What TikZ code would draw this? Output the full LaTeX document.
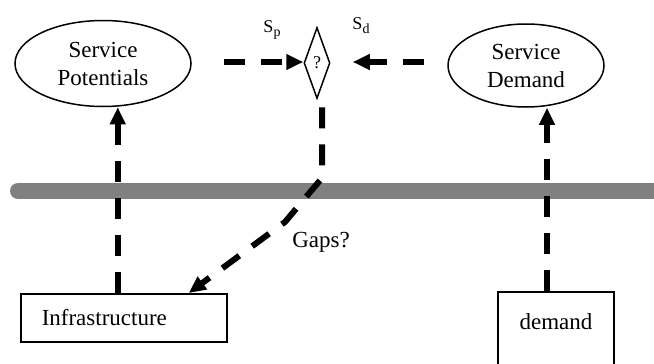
\documentclass[tikz,border=0pt]{standalone}
\usepackage{fontspec}
\setmainfont{Liberation Serif}
\usetikzlibrary{arrows.meta,shapes.geometric}
\definecolor{barGray}{gray}{0.5}
\newcommand{\subidx}[1]{\raisebox{-4pt}{\fontsize{14}{14}\selectfont #1}}
\begin{document}
\begin{tikzpicture}[x=1pt,y=-1pt,
  every node/.style={font=\fontsize{23}{28}\selectfont},
  outline/.style={draw=black, line width=1.5pt},
  ellnode/.style={outline, ellipse, inner sep=0pt, align=center},
  boxnode/.style={outline, rectangle},
  label/.style={font=\fontsize{18}{20}\selectfont, inner sep=0pt},
  dashline/.style={line width=6pt, dash pattern=on 21pt off 16pt,
    -{Triangle[length=17pt,width=15pt]}}]
  % page frame
  \clip (0,0) rectangle (654,364);

  % separating bar
  \draw[barGray, line width=16pt, line cap=round] (18,191) -- (680,191);

  % nodes
  \node[ellnode, minimum width=176pt, minimum height=86pt] (spot) at (103,63.5)
    {Service\\Potentials};
  \node[ellnode, minimum width=156pt, minimum height=83pt] (sdem) at (526,65.5)
    {Service\\Demand};
  \node[outline, diamond, aspect=0.37, inner sep=0pt,
        minimum width=26pt, minimum height=71pt,
        font=\fontsize{18}{20}\selectfont] (dia) at (317,63) {?};
  \node[boxnode, anchor=north west, text width=164pt, align=left,
        inner xsep=21pt, minimum height=48pt] (infra) at (20,293) {Infrastructure};
  \node[boxnode, anchor=north, minimum width=116pt, inner sep=0pt,
        text height=38pt, text depth=51pt] (dem) at (556,291) {demand};

  % labels
  \node[label] (lsp) at (272,30) {S\subidx{p}};
  \node[label] (lsd) at (361,25.5) {S\subidx{d}};
  \node (gaps) at (321,242) {Gaps?};

  % comparison arrows
  \coordinate (a0) at (224,62);
  \coordinate (b0) at (424,62);
  \draw[dashline] (a0) -- (a0 -| dia.west);
  \draw[dashline, shorten >=22pt] (b0) -- (b0 -| dia.east);

  % upward arrows
  \draw[dashline] ([xshift=-6pt]infra.north) -- ([xshift=-6pt]infra.north |- spot.south);
  \draw[dashline] ([xshift=-9pt]dem.north) -- ([xshift=-9pt]dem.north |- sdem.south);

  % gap arrow
  \coordinate (g0) at ([xshift=5pt,yshift=-8pt]dia.south);
  \coordinate (g1) at (322,178);
  \coordinate (g2) at (285,222);
  \draw[dashline] (g0) -- (g1) -- (g2) -- ([xshift=65pt]infra.north);
\end{tikzpicture}
\end{document}
